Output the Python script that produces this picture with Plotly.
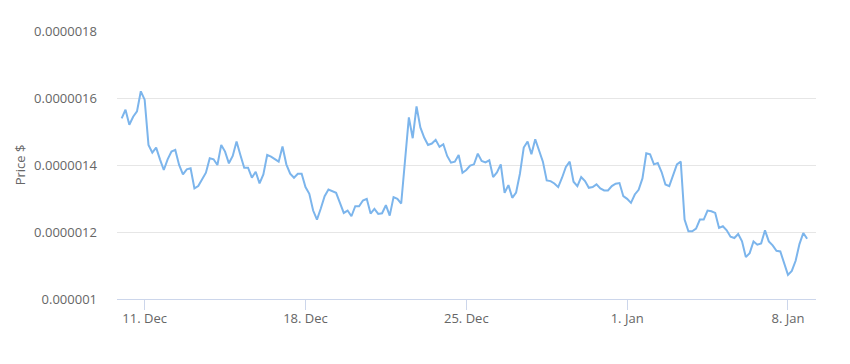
import pandas as pd
import plotly.graph_objects as go

# Price in millionths of a dollar, one reading every 4 hours from 10 Dec 00:00
start_time = "2023-12-10 00:00"
step = "4h"
price_micro = [
    1.539, 1.565, 1.520, 1.544, 1.560, 1.620, 1.595, 1.460, 1.437, 1.452,
    1.417, 1.385, 1.417, 1.440, 1.445, 1.400, 1.372, 1.387, 1.390, 1.330,
    1.337, 1.357, 1.377, 1.420, 1.417, 1.400, 1.460, 1.440, 1.405, 1.427,
    1.470, 1.430, 1.392, 1.392, 1.362, 1.380, 1.345, 1.372, 1.430, 1.425,
    1.417, 1.410, 1.455, 1.402, 1.374, 1.362, 1.374, 1.374, 1.334, 1.314,
    1.264, 1.237, 1.270, 1.307, 1.327, 1.322, 1.317, 1.287, 1.257, 1.264,
    1.247, 1.277, 1.277, 1.294, 1.299, 1.255, 1.269, 1.254, 1.256, 1.280,
    1.249, 1.304, 1.299, 1.285, 1.417, 1.542, 1.480, 1.575, 1.512, 1.482,
    1.460, 1.464, 1.475, 1.454, 1.462, 1.427, 1.407, 1.410, 1.430, 1.377,
    1.385, 1.398, 1.402, 1.434, 1.412, 1.408, 1.414, 1.364, 1.378, 1.402,
    1.317, 1.340, 1.302, 1.318, 1.374, 1.452, 1.470, 1.432, 1.477, 1.444,
    1.410, 1.354, 1.352, 1.345, 1.334, 1.362, 1.394, 1.410, 1.350, 1.337,
    1.364, 1.352, 1.332, 1.334, 1.342, 1.330, 1.324, 1.324, 1.337, 1.344,
    1.346, 1.307, 1.299, 1.287, 1.312, 1.326, 1.360, 1.435, 1.432, 1.402,
    1.406, 1.379, 1.342, 1.337, 1.370, 1.402, 1.410, 1.237, 1.202, 1.202,
    1.210, 1.237, 1.237, 1.264, 1.262, 1.257, 1.212, 1.217, 1.205, 1.186,
    1.182, 1.194, 1.172, 1.125, 1.137, 1.172, 1.162, 1.166, 1.205, 1.172,
    1.160, 1.144, 1.142, 1.107, 1.072, 1.084, 1.114, 1.164, 1.197, 1.180,
]

x_tick_dates = ["2023-12-11", "2023-12-18", "2023-12-25", "2024-01-01", "2024-01-08"]
x_tick_labels = ["11. Dec", "18. Dec", "25. Dec", "1. Jan", "8. Jan"]
y_tick_values = [0.0000010, 0.0000012, 0.0000014, 0.0000016, 0.0000018]
y_tick_labels = ["0.000001", "0.0000012", "0.0000014", "0.0000016", "0.0000018"]
y_title = "Price $"

times = pd.date_range(start=start_time, periods=len(price_micro), freq=step)
prices = [v * 1e-6 for v in price_micro]

fig = go.Figure()
fig.add_trace(go.Scatter(
    x=times, y=prices, mode="lines",
    line=dict(color="#7cb5ec", width=2),
    showlegend=False,
))

font_family = "Open Sans, Lato, sans-serif"
fig.update_layout(
    width=842, height=356,
    margin=dict(l=104, r=34, t=23, b=65),
    paper_bgcolor="white", plot_bgcolor="white",
    font=dict(family=font_family, size=13, color="#666666"),
    xaxis=dict(
        range=["2023-12-09 19:07", "2024-01-09 05:17"],
        tickmode="array", tickvals=x_tick_dates, ticktext=x_tick_labels,
        showgrid=False, showline=True, linecolor="#ccd6eb", linewidth=1,
        ticks="outside", ticklen=10, tickcolor="#ccd6eb", tickwidth=1,
        ticklabelstandoff=-3,
        tickfont=dict(size=13, color="#666666"),
        zeroline=False,
    ),
    yaxis=dict(
        range=[0.000001, 0.0000018],
        tickmode="array", tickvals=y_tick_values, ticktext=y_tick_labels,
        showgrid=True, gridcolor="#e6e6e6", gridwidth=1,
        showline=False, zeroline=False, ticks="",
        ticklabelstandoff=19,
        tickfont=dict(size=13, color="#666666"),
        title=dict(text=y_title, standoff=5, font=dict(size=13, color="#666666")),
    ),
)

fig.write_html("out.html")
